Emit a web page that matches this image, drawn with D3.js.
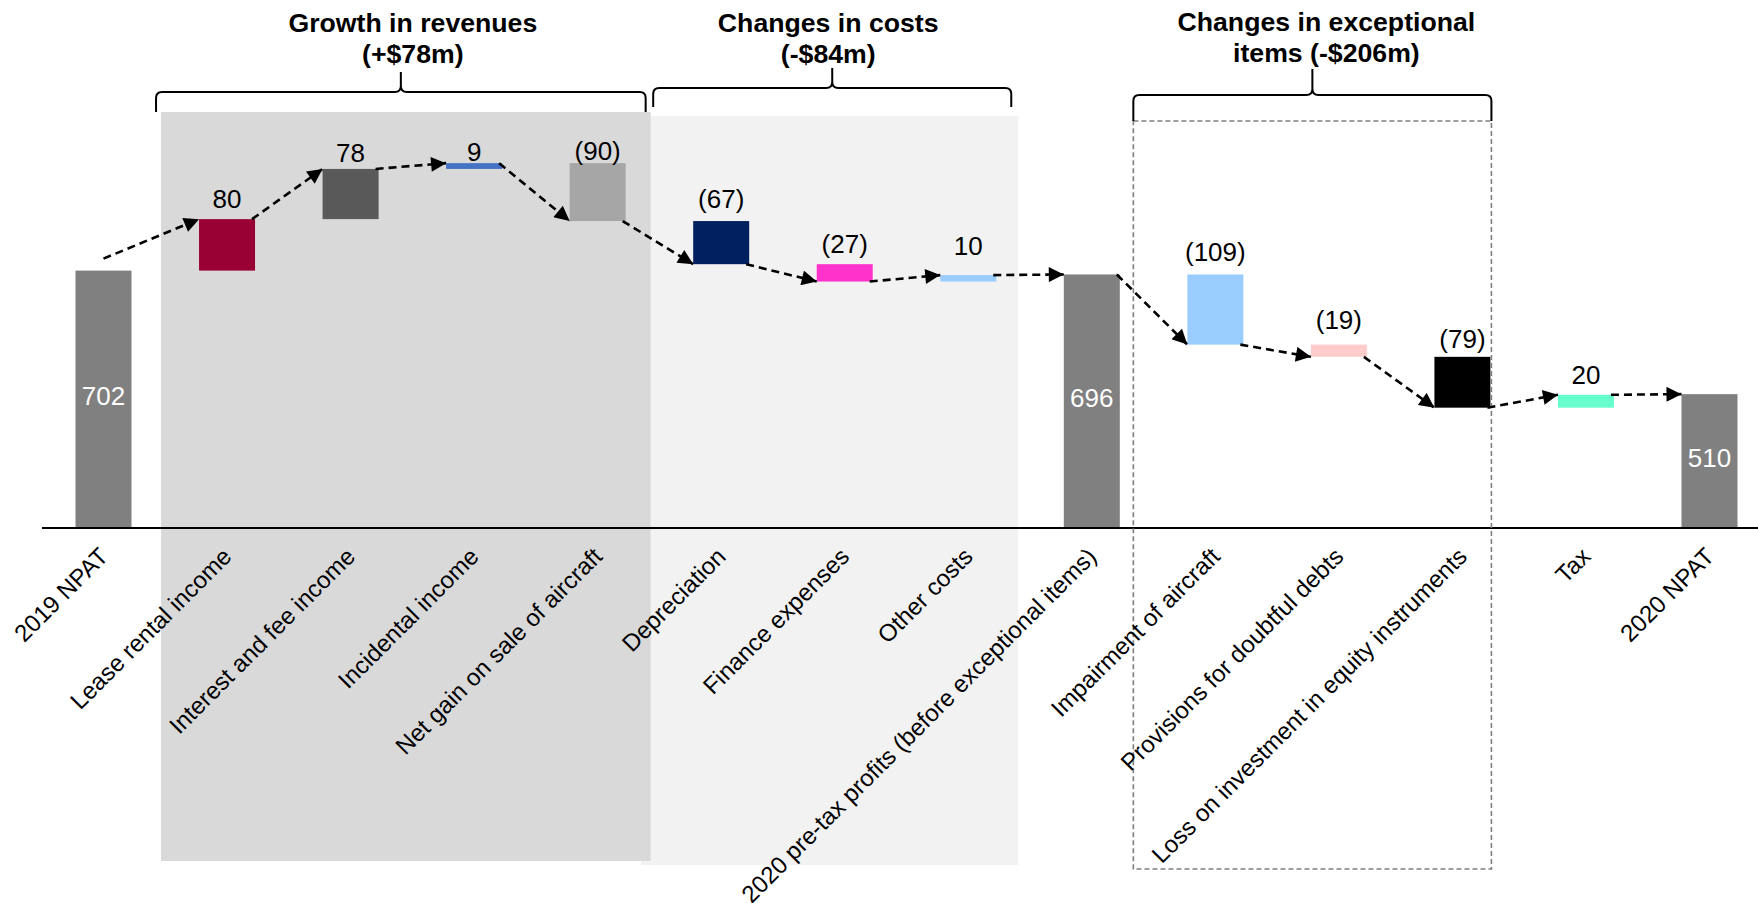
<!DOCTYPE html>
<html><head><meta charset="utf-8">
<script src="https://cdn.jsdelivr.net/npm/d3@7"></script>
<style>
body{margin:0;background:#fff}
svg{display:block;font-family:"Liberation Sans",Arial,sans-serif}
</style>
</head><body>
<svg id="chart" width="1758" height="903"></svg>
<script>
// ---------- data ----------
const categories = ["2019 NPAT","Lease rental income","Interest and fee income","Incidental income","Net gain on sale of aircraft","Depreciation","Finance expenses","Other costs","2020 pre-tax profits (before exceptional items)","Impairment of aircraft","Provisions for doubtful debts","Loss on investment in equity instruments","Tax","2020 NPAT"];
const values = [702, 80, 78, 9, -90, -67, -27, 10, 696, -109, -19, -79, 20, 510];
const isTotal = [true,false,false,false,false,false,false,false,true,false,false,false,false,true];
const groupTitles = [["Growth in revenues","(+$78m)"],["Changes in costs","(-$84m)"],["Changes in exceptional","items (-$206m)"]];
const groupFirst = [1, 5, 9];
const groupLast = [4, 7, 11];

// ---------- styles / layout ----------
const barColors = ["#808080","#990033","#595959","#4472C4","#A6A6A6","#002060","#FF33CC","#99CCFF","#808080","#99CCFF","#FFCCCC","#000000","#66FFCC","#808080"];
const labelGap = [0,11,7,2,3,13,11,20,0,13,16,9,11,0];
const groupLayout = [
  {padL:66, padR:53, top:112, bottom:861, fill:"#D9D9D9", dashed:false, bInL:-5, bInR:-5, yl:92, yb:112, yt:72, tdx:12, by1:32, by2:63},
  {padL:80, padR:50, top:116, bottom:865, fill:"#F2F2F2", dashed:false, bInL:12, bInR:-7, yl:88, yb:107, yt:68, tdx:-4, by1:32, by2:63},
  {padL:82, padR:29, top:121, bottom:869, fill:"none", dashed:true, bInL:0, bInR:0, yl:95, yb:121, yt:69, tdx:14, by1:31, by2:62}
];
const W = 1758, H = 903, axisY = 528, barW = 56;

const svg = d3.select("#chart");
svg.append("rect").attr("width",W).attr("height",H).attr("fill","#fff");

const x = d3.scalePoint().domain(d3.range(categories.length)).range([103.5, 1709.5]);
const y = d3.scaleLinear().domain([302, 870]).range([axisY, 162.5]);

// cumulative levels
const bars = [];
let level = 0;
values.forEach((v,i)=>{
  if(isTotal[i]){ bars.push({i, lo:302, hi:v, end:v}); level = v; }
  else { const s = level, e = level + v; bars.push({i, lo:Math.min(s,e), hi:Math.max(s,e), end:e}); level = e; }
});

const fmt = (v,i) => isTotal[i] ? String(v) : (v < 0 ? "(" + Math.abs(v) + ")" : String(v));

// ---------- group shading ----------
const gBox = svg.append("g");
[1,0].forEach(g=>{
  const L = groupLayout[g];
  if(L.dashed) return;
  const x0 = x(groupFirst[g]) - L.padL, x1 = x(groupLast[g]) + L.padR;
  gBox.append("rect").attr("x",x0).attr("y",L.top).attr("width",x1-x0).attr("height",L.bottom-L.top).attr("fill",L.fill);
});

// ---------- bars ----------
svg.append("g").selectAll("rect").data(bars).join("rect")
  .attr("x",d=>x(d.i)-barW/2).attr("width",barW)
  .attr("y",d=>y(d.hi)).attr("height",d=>Math.max(1,y(d.lo)-y(d.hi)))
  .attr("fill",d=>barColors[d.i]);

// axis line
svg.append("line").attr("x1",42).attr("x2",W).attr("y1",axisY).attr("y2",axisY).attr("stroke","#000").attr("stroke-width",2.2);

// dashed box
groupLayout.forEach((L,g)=>{
  if(!L.dashed) return;
  const x0 = x(groupFirst[g]) - L.padL, x1 = x(groupLast[g]) + L.padR;
  svg.append("rect").attr("x",x0).attr("y",L.top).attr("width",x1-x0).attr("height",L.bottom-L.top)
    .attr("fill","none").attr("stroke","#7F7F7F").attr("stroke-width",1.6).attr("stroke-dasharray","5,3");
});

// ---------- arrows ----------
const defs = svg.append("defs");
defs.append("marker").attr("id","ah").attr("viewBox","0 0 10 10").attr("refX",10).attr("refY",5)
  .attr("markerUnits","userSpaceOnUse").attr("markerWidth",17).attr("markerHeight",15).attr("orient","auto")
  .append("path").attr("d","M0,0 L10,5 L0,10 z").attr("fill","#000");

const arrows = d3.range(bars.length-1).map(i=>{
  const a = bars[i], b = bars[i+1];
  const sx = i===0 ? x(i) : x(i)+barW/2-3;
  const sy = i===0 ? y(a.end)-12 : y(a.end);
  return {sx, sy, ex:x(i+1)-barW/2, ey:y(b.end)};
});
svg.append("g").selectAll("line").data(arrows).join("line")
  .attr("x1",d=>d.sx).attr("y1",d=>d.sy).attr("x2",d=>d.ex).attr("y2",d=>d.ey)
  .attr("stroke","#000").attr("stroke-width",2.6).attr("stroke-dasharray","8,5")
  .attr("marker-end","url(#ah)");

// ---------- value labels ----------
svg.append("g").selectAll("text").data(bars).join("text")
  .attr("x",d=>x(d.i))
  .attr("y",d=> isTotal[d.i] ? (y(d.hi)+y(d.lo))/2 + 6 : y(d.hi) - labelGap[d.i])
  .attr("text-anchor","middle").attr("font-size",26)
  .attr("fill",d=>isTotal[d.i] ? "#fff" : "#000")
  .text(d=>fmt(values[d.i], d.i));

// ---------- category labels ----------
svg.append("g").selectAll("text").data(categories).join("text")
  .attr("transform",(d,i)=>`translate(${x(i)+6},558) rotate(-45)`)
  .attr("text-anchor","end").attr("font-size",24).attr("fill","#000")
  .text(d=>d);

// ---------- braces & titles ----------
function brace(x0,x1,yl,yb,yt){
  const xm=(x0+x1)/2, r=6;
  return `M${x0},${yb} L${x0},${yl+r} Q${x0},${yl} ${x0+r},${yl} L${xm-r},${yl} Q${xm},${yl} ${xm},${yl-r} L${xm},${yt} M${xm},${yl-r} Q${xm},${yl} ${xm+r},${yl} L${x1-r},${yl} Q${x1},${yl} ${x1},${yl+r} L${x1},${yb}`;
}
groupLayout.forEach((L,g)=>{
  const bx0 = x(groupFirst[g]) - L.padL + L.bInL, bx1 = x(groupLast[g]) + L.padR + L.bInR;
  svg.append("path").attr("d",brace(bx0,bx1,L.yl,L.yb,L.yt)).attr("fill","none").attr("stroke","#000").attr("stroke-width",2);
  const cx = (bx0+bx1)/2 + L.tdx;
  const t = svg.append("text").attr("text-anchor","middle").attr("font-size",26.67).attr("font-weight","bold").attr("fill","#000");
  t.append("tspan").attr("x",cx).attr("y",L.by1).text(groupTitles[g][0]);
  t.append("tspan").attr("x",cx).attr("y",L.by2).text(groupTitles[g][1]);
});
</script>
</body></html>
